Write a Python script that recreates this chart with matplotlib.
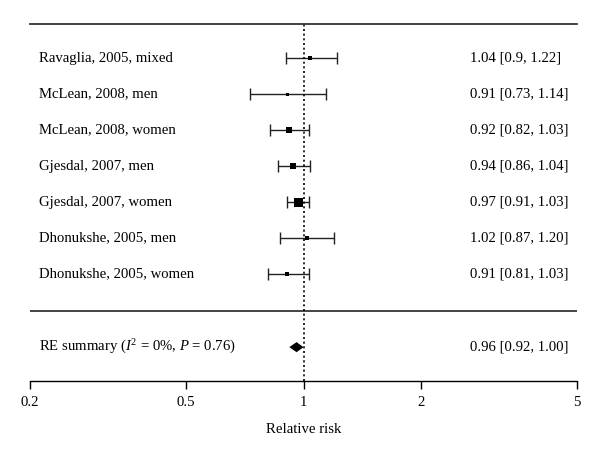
import numpy as np
import matplotlib
matplotlib.use("Agg")
import matplotlib.pyplot as plt

plt.rcParams['font.family'] = ['Liberation Serif', 'DejaVu Serif']
plt.rcParams['mathtext.fontset'] = 'custom'
plt.rcParams['mathtext.rm'] = 'Liberation Serif'
plt.rcParams['mathtext.it'] = 'Liberation Serif:italic'

# study data (relative risk with 95% CI)
studies = ["Ravaglia, 2005, mixed", "McLean, 2008, men", "McLean, 2008, women",
           "Gjesdal, 2007, men", "Gjesdal, 2007, women",
           "Dhonukshe, 2005, men", "Dhonukshe, 2005, women"]
rr = [1.04, 0.91, 0.92, 0.94, 0.97, 1.02, 0.91]
ci_low = [0.90, 0.73, 0.82, 0.86, 0.91, 0.87, 0.81]
ci_high = [1.22, 1.14, 1.03, 1.04, 1.03, 1.20, 1.03]
ci_text = ["1.04 [0.9, 1.22]", "0.91 [0.73, 1.14]", "0.92 [0.82, 1.03]",
           "0.94 [0.86, 1.04]", "0.97 [0.91, 1.03]", "1.02 [0.87, 1.20]",
           "0.91 [0.81, 1.03]"]

summary_label = r"RE summary ($I^2$ = 0%, $P$ = 0.76)"
summary_rr = 0.96
summary_low = 0.92
summary_high = 1.00
summary_text = "0.96 [0.92, 1.00]"

xticks = [0.2, 0.5, 1, 2, 5]
xtick_labels = ["0.2", "0.5", "1", "2", "5"]

FS = 10.6
fig = plt.figure(figsize=(6.0, 4.53), dpi=100)
ax = fig.add_axes([30 / 600, 72 / 453, 547 / 600, 357 / 453])
ax.set_xscale("log")
ax.set_xlim(0.2, 5)
ax.set_ylim(8.97, -0.95)

# box sizes from precision (1/se), scaled between min and max size
se = (np.log(ci_high) - np.log(ci_low)) / 3.92
w = 1 / se
box_px = 3 + (w - w.min()) / (w.max() - w.min()) * 6

for i in range(len(studies)):
    ax.errorbar(rr[i], i, xerr=[[rr[i] - ci_low[i]], [ci_high[i] - rr[i]]],
                fmt="none", ecolor="#222222", elinewidth=1.0,
                capsize=4.3, capthick=1.0)
    ax.plot(rr[i], i, "s", color="black", markersize=box_px[i] * 0.72,
            markeredgewidth=0, zorder=3)
    ax.text(0.0165, i, studies[i], transform=ax.get_yaxis_transform(),
            ha="left", va="center", fontsize=FS)
    ax.text(0.804, i, ci_text[i], transform=ax.get_yaxis_transform(),
            ha="left", va="center", fontsize=FS)

# summary diamond
ys = 8.03
ax.fill([summary_low, summary_rr, summary_high, summary_rr],
        [ys, ys - 0.14, ys, ys + 0.14], color="black", lw=0, zorder=3)
ax.text(0.0165, ys, summary_label, transform=ax.get_yaxis_transform(),
        ha="left", va="center", fontsize=FS)
ax.text(0.804, ys, summary_text, transform=ax.get_yaxis_transform(),
        ha="left", va="center", fontsize=FS)

ax.axhline(7.03, color="#444444", lw=1.4)
ax.axvline(1, color="black", ls=(0, (1.2, 1.6)), lw=1.2)

for s in ["left", "right"]:
    ax.spines[s].set_visible(False)
ax.spines["top"].set_color("#333333")
ax.spines["top"].set_linewidth(1.3)
ax.spines["bottom"].set_linewidth(1.0)
ax.set_yticks([])
ax.set_xticks(xticks)
ax.set_xticklabels(xtick_labels, fontsize=FS)
ax.minorticks_off()
ax.tick_params(axis="x", direction="out", length=5.8, width=1.0, pad=5)
ax.set_xlabel("Relative risk", fontsize=FS, labelpad=10)

fig.savefig("out.png", dpi=100)
